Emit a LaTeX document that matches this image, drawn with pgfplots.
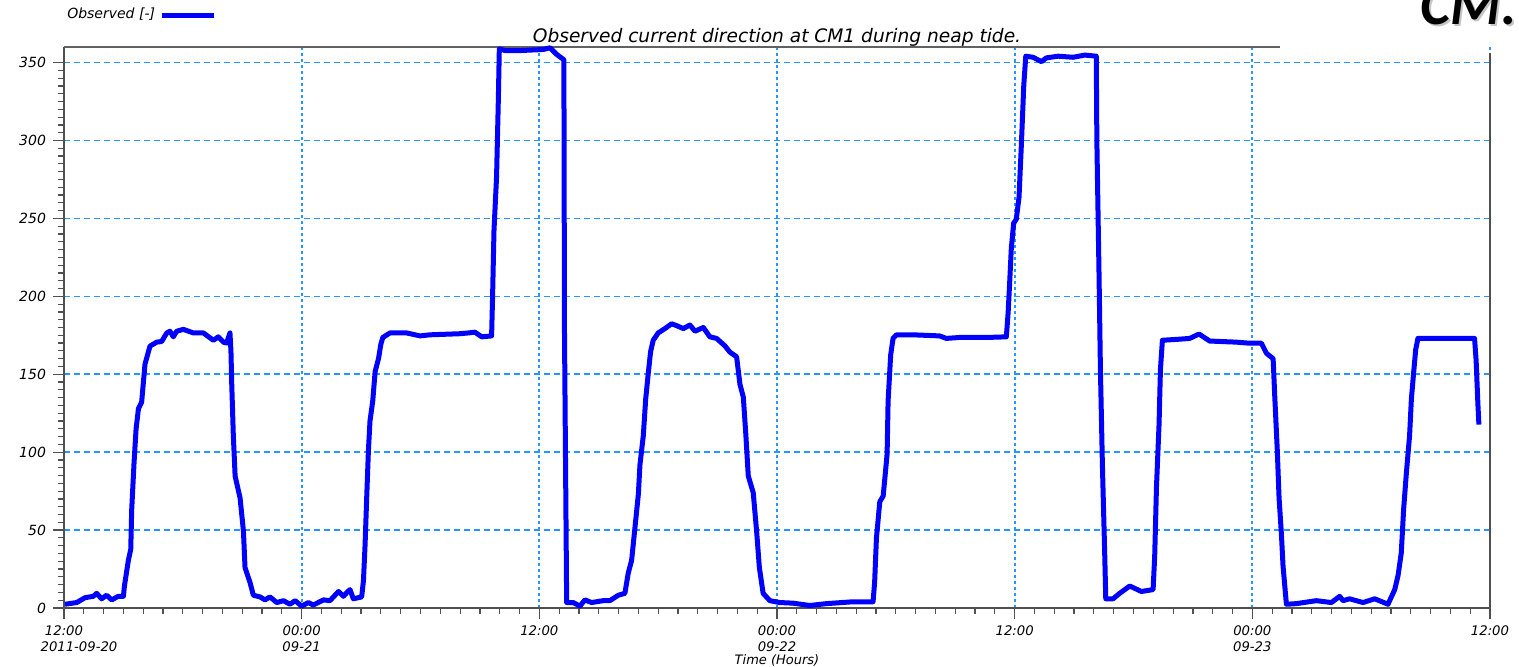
\documentclass[border=0pt]{standalone}
\usepackage{fontspec}
\setmainfont{DejaVu Sans}
\newfontfamily\cmfont{Carlito}
\usepackage{pgfplots}
\usepackage{pgfplotstable}
\pgfplotsset{compat=1.18}
\definecolor{gridblue}{RGB}{40,150,255}
\definecolor{axgray}{RGB}{80,80,80}
\definecolor{obsblue}{RGB}{0,0,255}

\pgfplotstableread{
h v
0.05 2.4
0.64 3.5
1.06 6.6
1.48 7.5
1.65 9.4
1.90 5.9
2.15 8.2
2.41 5.2
2.74 7.5
3.00 7.5
3.05 14
3.25 30.6
3.37 37.6
3.42 63.5
3.54 94
3.64 115
3.76 128
3.92 132
4.01 145
4.09 156.5
4.21 162
4.34 168
4.68 170.6
4.93 171
5.19 176.5
5.35 177.6
5.52 174
5.69 177.6
6.03 178.8
6.53 176.5
7.04 176.5
7.54 171.8
7.79 174
8.05 170.6
8.21 170
8.38 176.5
8.43 164.7
8.47 143.5
8.55 110.6
8.64 84.7
8.89 70.6
9.06 49.4
9.14 25.9
9.39 16.5
9.56 8.2
9.90 7.1
10.15 5.2
10.40 7.1
10.74 3.5
11.08 4.7
11.41 2.4
11.67 4.7
12.00 1.2
12.34 3.5
12.59 1.9
13.10 5.2
13.43 4.7
13.86 10.6
14.11 7.5
14.28 9.9
14.44 11.8
14.61 5.9
15.03 7.1
15.12 17.6
15.20 40
15.29 73
15.37 101
15.45 120
15.59 133
15.71 151.8
15.88 160
16.00 169.4
16.10 173.6
16.46 176.5
17.30 176.5
17.98 174.6
18.48 175.3
19.99 176
20.41 176.5
20.75 177
21.09 174
21.59 174.6
21.64 200
21.71 242
21.84 276.5
21.93 326
21.98 358.8
22.27 357.7
23.02 357.7
24.20 358.4
24.54 359.5
24.87 355.3
25.24 351.8
25.27 177.6
25.38 3.5
25.71 3.5
26.05 1.2
26.30 5.2
26.64 3.5
27.23 4.7
27.56 4.7
27.99 8.2
28.32 9.4
28.49 22.4
28.66 30.6
28.83 51.8
29.00 73
29.08 91.8
29.25 110.6
29.37 134
29.50 150.6
29.62 164.7
29.75 171.8
30.00 176.5
30.34 179.3
30.68 182.4
30.93 181.2
31.27 179.3
31.60 181.6
31.86 177.6
32.28 180
32.61 174
32.95 173
33.37 168.2
33.62 164.2
33.96 161.2
34.13 143.5
34.30 135.3
34.43 110.6
34.55 84.7
34.80 74
34.97 49.4
35.11 25.9
35.30 9.4
35.64 4.7
36.14 3.5
36.81 3.1
37.65 1.6
38.50 2.8
39.84 4
40.85 4
40.93 16.5
41.02 44.7
41.19 68.2
41.36 71.8
41.44 82.4
41.56 98.8
41.61 133
41.74 162.4
41.86 173
42.03 175.3
42.87 175.3
44.21 174.6
44.55 173
45.22 173.6
46.57 173.6
47.58 174
47.67 189.4
47.75 209.4
47.83 230.6
47.95 247
48.08 249.4
48.22 263.5
48.34 297.7
48.46 335.3
48.56 354.1
48.93 353.4
49.35 350.6
49.60 353
50.19 354.1
50.95 353.4
51.54 354.8
52.12 354.1
52.15 300
52.26 214
52.33 153
52.43 91.8
52.55 33
52.60 5.9
52.97 5.9
53.30 9.4
53.81 14.1
54.40 10.6
54.99 11.8
55.07 33
55.16 77.6
55.29 117.7
55.36 153
55.46 171.8
56.33 172.5
56.84 173
57.31 175.8
57.85 171.3
59.19 170.6
59.87 169.9
60.46 169.9
60.71 163.5
61.05 160
61.13 136.5
61.26 101.2
61.35 70.6
61.47 47
61.55 27
61.72 2.4
62.22 2.8
63.23 4.7
63.99 3.5
64.41 7.5
64.58 4.7
64.91 5.9
65.59 3.5
66.18 5.9
66.85 2.4
67.19 11.8
67.36 21
67.52 35.3
67.64 63.5
67.78 87
67.94 110.6
68.03 134
68.15 151.8
68.25 165.9
68.36 173
69.29 173
71.22 173
71.30 158.8
71.39 130.6
71.44 117.7
}\dataobs

\begin{document}
\begin{tikzpicture}
\begin{axis}[
  name=ax, at={(0,0)}, anchor=south west,
  scale only axis, width=713pt, height=280.5pt,
  xmin=0, xmax=72, ymin=0, ymax=360,
  xtick={0,12,...,72},
  xticklabels={{12:00\\\hspace*{15pt}2011-09-20},{00:00\\09-21},{12:00},{00:00\\09-22},{12:00},{00:00\\09-23},{12:00}},
  ytick={0,50,...,350},
  minor x tick num=11, minor y tick num=9,
  tick align=outside, tick pos=left,
  major tick length=5.5pt, minor tick length=3pt,
  tick style={axgray, line width=0.6pt},
  axis line style={draw=none},
  grid=major,
  major x grid style={gridblue, line width=1.1pt, dash pattern=on 1.5pt off 1.5pt},
  major y grid style={gridblue, line width=0.8pt, dash pattern=on 3pt off 2pt},
  /pgf/number format/assume math mode=true,
  ticklabel style={font=\fontsize{7}{8}\selectfont\itshape},
  xticklabel style={align=center, font=\fontsize{6.6}{8}\selectfont\itshape},
  xlabel={Time (Hours)},
  xlabel style={font=\fontsize{6.5}{8}\selectfont\itshape, yshift=5.5pt},
  title={Observed current direction at CM1 during neap tide.},
  title style={font=\fontsize{9.3}{10}\selectfont\itshape, yshift=-9pt},
  legend entries={Observed [-]},
  legend plot pos=right,
  legend style={at={(-0.005,1.057)}, anchor=west, draw=none, fill=none,
    font=\fontsize{7}{8}\selectfont\itshape, legend cell align=left},
  legend image code/.code={\draw[#1] (0pt,0pt) -- (26pt,0pt);},
  clip=false,
]
\draw[axgray, line width=1pt] (rel axis cs:0,0) -- (rel axis cs:1,0);
\draw[axgray, line width=1pt] (rel axis cs:0,0) -- (rel axis cs:0,1);
\draw[axgray, line width=1pt] (rel axis cs:1,0) -- (rel axis cs:1,0.99);
\draw[axgray!90, line width=1pt] (rel axis cs:0,1) -- (rel axis cs:0.8527,1);
\addplot[obsblue, line width=2.5pt, line join=round, mark=none] table[x=h, y=v] {\dataobs};
\end{axis}
\node[anchor=base west, inner sep=0, text=gray!45, font={\cmfont\bfseries\itshape\fontsize{29}{30}\selectfont}] at (679pt,290.5pt) {CM.};
\node[anchor=base west, inner sep=0, text=black, font={\cmfont\bfseries\itshape\fontsize{29}{30}\selectfont}] at (678pt,291.5pt) {CM.};
\pgfresetboundingbox
\path[use as bounding box] (-32pt,-29.5pt) rectangle (727.5pt,304pt);
\end{tikzpicture}
\end{document}
